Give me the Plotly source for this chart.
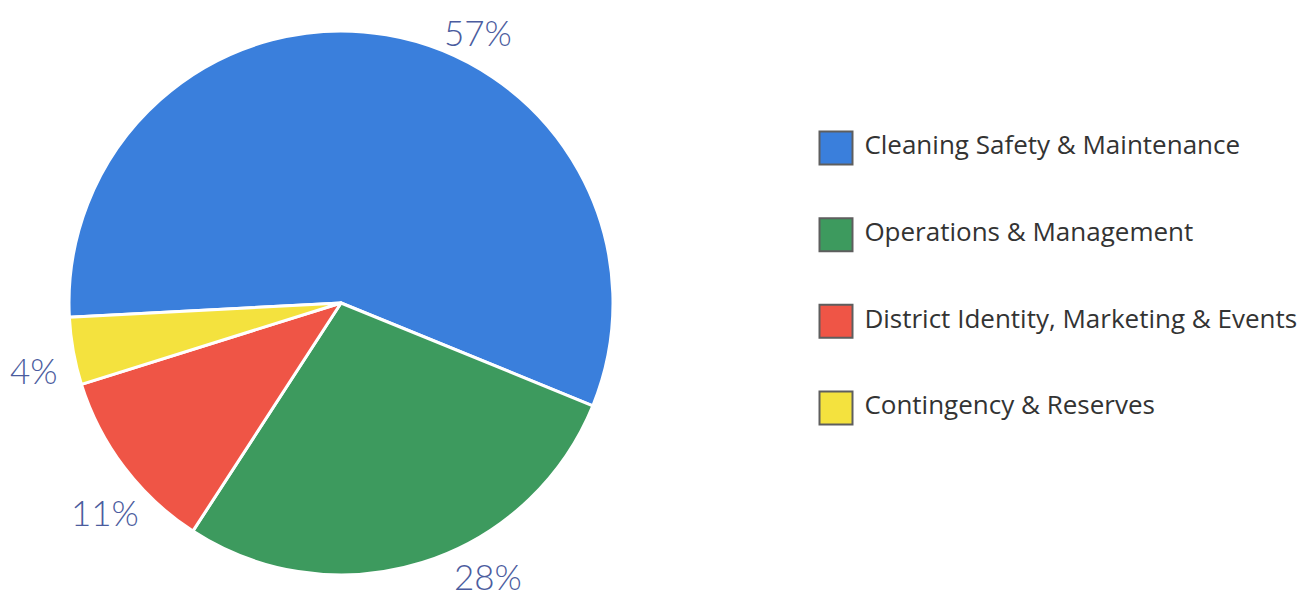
import plotly.graph_objects as go

# ── Data ──
categories = [
    "Cleaning Safety & Maintenance",
    "Operations & Management",
    "District Identity, Marketing & Events",
    "Contingency & Reserves",
]
shares = [57, 28, 11, 4]
slice_colors = ["#3a7fdc", "#3d9a5e", "#ef5546", "#f4e23e"]

# where each percentage label sits on screen (px), one per slice
label_px = [478, 488, 105, 34]
label_py = [32, 576, 512, 370]

LABEL_COLOR = "#4b5c9e"
TEXT_COLOR = "#333333"
W, H = 1315, 603
OFF = 8  # page body margin


def px_x(v):
    return (v - OFF) / W


def px_y(v):
    return 1 - (v - OFF) / H


fig = go.Figure()

# pie centre and radius (screen px)
cx, cy, r = 341, 303, 272
fig.add_trace(go.Pie(
    labels=categories,
    values=shares,
    sort=False,
    direction="clockwise",
    rotation=267,
    marker=dict(colors=slice_colors, line=dict(color="white", width=3)),
    textinfo="none",
    hoverinfo="label+percent",
    domain=dict(x=[px_x(cx - r), px_x(cx + r)],
                y=[px_y(cy + r), px_y(cy - r)]),
    showlegend=False,
))

# legend drawn as a scatter: one square swatch per category
fig.add_trace(go.Scatter(
    x=[0] * len(categories),
    y=list(range(len(categories))),
    mode="markers+text",
    marker=dict(symbol="square", size=33, color=slice_colors,
                line=dict(color="#5e5e5e", width=2)),
    text=[" " + c for c in categories],
    textposition="middle right",
    textfont=dict(family="Open Sans, sans-serif", size=26, color=TEXT_COLOR),
    hoverinfo="skip",
    showlegend=False,
))

for s, x, y in zip(shares, label_px, label_py):
    fig.add_annotation(
        x=px_x(x), y=px_y(y), xref="paper", yref="paper",
        xanchor="center", yanchor="middle",
        text=f"{s}%", showarrow=False,
        font=dict(family="Lato, sans-serif", size=35, color=LABEL_COLOR,
                  weight=300),
    )

# legend rows at 146 .. 406 px, swatch centre at 836 px
row_gap = (406 - 146) / 3
x0 = 790
frac = (836 - OFF - x0) / (W - x0)
fig.update_layout(
    width=W, height=H,
    margin=dict(l=0, r=0, t=0, b=0),
    paper_bgcolor="white",
    plot_bgcolor="white",
    xaxis=dict(domain=[x0 / W, 1], range=[-frac * 10, (1 - frac) * 10],
               visible=False, fixedrange=True),
    yaxis=dict(domain=[px_y(408 + row_gap / 2), px_y(148 - row_gap / 2)],
               range=[3.5, -0.5], visible=False, fixedrange=True),
)

fig.write_html("out.html")
